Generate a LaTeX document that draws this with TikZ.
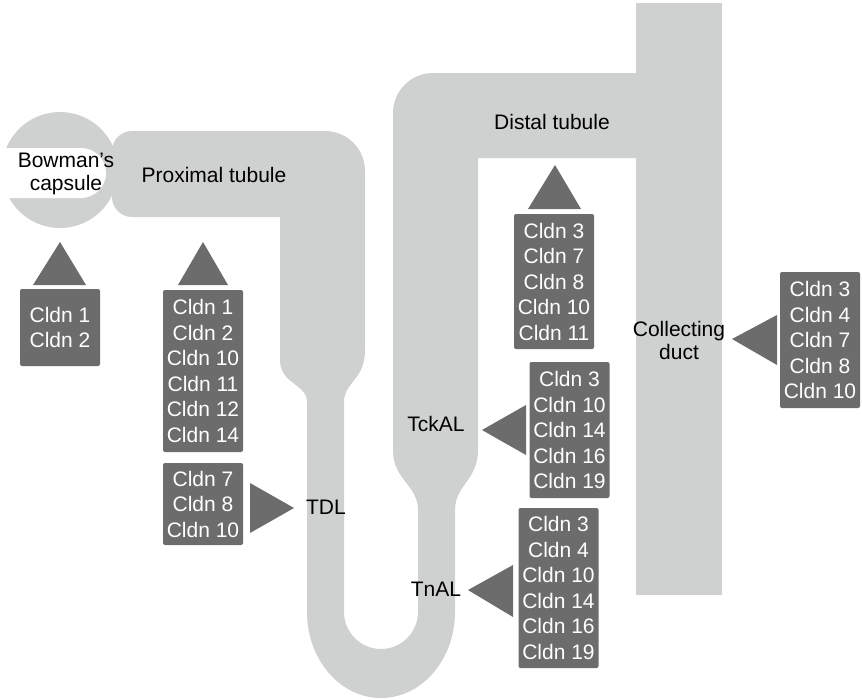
\documentclass[tikz,border=0pt]{standalone}
\usepackage{fontspec}
\setmainfont{Liberation Sans}
\definecolor{tube}{RGB}{207,208,208}
\definecolor{boxgrey}{RGB}{108,108,108}
\begin{document}
\begin{tikzpicture}[x=1pt,y=-1pt,
  cbox/.style={fill=boxgrey, text=white, rounded corners=2pt, minimum width=80pt,
    inner sep=0pt, align=center, font=\fontsize{21}{25.5}\selectfont},
  lbl/.style={text=black, inner sep=0pt, align=center, font=\fontsize{21}{23}\selectfont},
  ptr/.style={fill=boxgrey}]
\useasboundingbox (0,0) rectangle (862,699);
\fill[white] (0,0) rectangle (862,699);
% Bowman's capsule
\fill[tube] (60,170) circle[radius=58];
\fill[white] (-5,148) -- (81,148) .. controls (94.8,148) and (106,159.2) .. (106,173)
  .. controls (106,186.8) and (94.8,198) .. (81,198) -- (-5,198) -- cycle;
% tubule
\fill[tube] (132,131) -- (325,131) .. controls (347.1,131) and (365,148.9) .. (365,171)
  -- (365,350) .. controls (365,380) and (344,382) .. (344,402)
  -- (344,612) .. controls (344,632.4) and (360.6,649) .. (381,649)
  .. controls (401.4,649) and (418,632.4) .. (418,612)
  -- (418,510) .. controls (418,485) and (393,480) .. (393,450)
  -- (393,113) .. controls (393,90.9) and (410.9,73) .. (433,73)
  -- (640,73) -- (640,158) -- (478,158) -- (478,450)
  .. controls (478,480) and (455,485) .. (455,510)
  -- (455,612) .. controls (455,659.5) and (421.9,698) .. (381,698)
  .. controls (340.1,698) and (307,659.5) .. (307,612)
  -- (307,402) .. controls (307,384) and (280,384) .. (280,360)
  -- (280,217) -- (132,217) .. controls (121,217) and (112,208) .. (112,197)
  -- (112,151) .. controls (112,140) and (121,131) .. (132,131) -- cycle;
% collecting duct
\fill[tube] (636,3) rectangle (722,595);
% labels
\node[lbl] (lbow) at (66,174) {Bowman’s\\capsule};
\node[lbl] (lprox) at (214,175) {Proximal tubule};
\node[lbl] (ldist) at (552,122) {Distal tubule};
\node[lbl] (ltdl) at (326,507) {TDL};
\node[lbl] (ltck) at (436,424) {TckAL};
\node[lbl] (ltn) at (436,589) {TnAL};
\node[lbl] (lcd) at (679,340) {Collecting\\duct};
% boxes
\node[cbox, minimum height=77pt] (b1) at (60,327.5) {Cldn 1\\Cldn 2};
\node[cbox, minimum height=162pt] (b2) at (203,371) {Cldn 1\\Cldn 2\\Cldn 10\\Cldn 11\\Cldn 12\\Cldn 14};
\node[cbox, minimum height=82pt] (b3) at (203,504) {Cldn 7\\Cldn 8\\Cldn 10};
\node[cbox, minimum height=135pt] (b4) at (554,281.5) {Cldn 3\\Cldn 7\\Cldn 8\\Cldn 10\\Cldn 11};
\node[cbox, minimum height=136pt] (b5) at (569.5,430) {Cldn 3\\Cldn 10\\Cldn 14\\Cldn 16\\Cldn 19};
\node[cbox, minimum height=160pt] (b6) at (558.5,588) {Cldn 3\\Cldn 4\\Cldn 10\\Cldn 14\\Cldn 16\\Cldn 19};
\node[cbox, minimum height=136pt] (b7) at (820,340) {Cldn 3\\Cldn 4\\Cldn 7\\Cldn 8\\Cldn 10};
% pointers
\fill[ptr] (60,242) -- (86,285) -- (33,285) -- cycle;
\fill[ptr] (203,242) -- (228,285) -- (178,285) -- cycle;
\fill[ptr] (294,508) -- (250,533) -- (250,483) -- cycle;
\fill[ptr] (555,165) -- (581,209) -- (528,209) -- cycle;
\fill[ptr] (482,430) -- (526,405) -- (526,455) -- cycle;
\fill[ptr] (468,590) -- (513,565) -- (513,617) -- cycle;
\fill[ptr] (732,339) -- (777,315) -- (777,365) -- cycle;
\end{tikzpicture}
\end{document}
